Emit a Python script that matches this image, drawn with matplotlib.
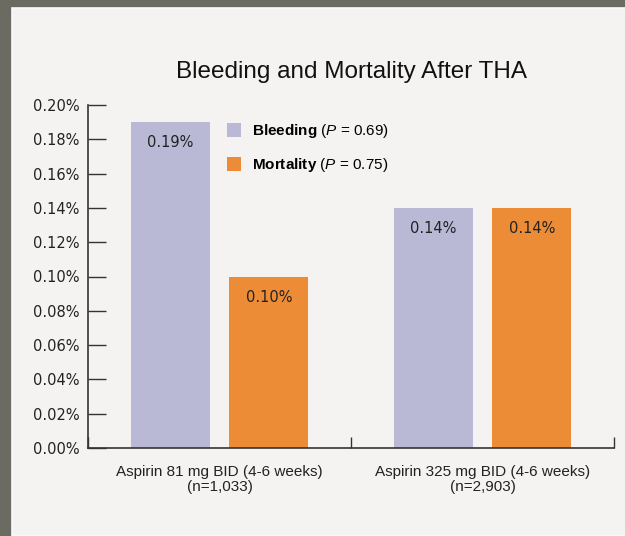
import matplotlib
matplotlib.use("Agg")
import matplotlib.pyplot as plt
from matplotlib.patches import Rectangle, Patch
import numpy as np

# data
groups = ["Aspirin 81 mg BID (4-6 weeks)\n(n=1,033)",
          "Aspirin 325 mg BID (4-6 weeks)\n(n=2,903)"]
bleeding = [0.19, 0.14]
mortality = [0.10, 0.14]
series_labels = [r"$\bf{Bleeding}$ ($\it{P}$ = 0.69)",
                 r"$\bf{Mortality}$ ($\it{P}$ = 0.75)"]
yticks = [0.00, 0.02, 0.04, 0.06, 0.08, 0.10, 0.12, 0.14, 0.16, 0.18, 0.20]

c_bleed = "#b9b9d5"
c_mort = "#ec8c36"
bg = "#f4f3f1"
narrow = ["Liberation Sans Narrow", "Liberation Sans", "DejaVu Sans"]

plt.rcParams["mathtext.fontset"] = "custom"
plt.rcParams["mathtext.rm"] = "Liberation Sans"
plt.rcParams["mathtext.it"] = "Liberation Sans:italic"
plt.rcParams["mathtext.bf"] = "Liberation Sans:bold"

fig = plt.figure(figsize=(6.25, 5.36), dpi=100)
fig.patch.set_facecolor("#6b6b61")
fig.patches.append(Rectangle((12 / 625, 0), 1, 1 - 8 / 536, transform=fig.transFigure,
                             facecolor=bg, edgecolor="#fbfbfb", linewidth=1.2,
                             zorder=-10))

ax = fig.add_axes([88 / 625, 88 / 536, 526 / 625, 343 / 536])
ax.set_facecolor("none")
ax.set_zorder(5)

x = np.arange(len(groups))
w = 0.30
off = 0.188
b1 = ax.bar(x - off, bleeding, w, color=c_bleed)
b2 = ax.bar(x + off, mortality, w, color=c_mort)

for bars, vals in ((b1, bleeding), (b2, mortality)):
    for rect, v in zip(bars, vals):
        ax.annotate(f"{v:.2f}%", (rect.get_x() + rect.get_width() / 2, v),
                    xytext=(0, -15), textcoords="offset points",
                    ha="center", va="center", fontsize=10.5, color="#222222")

ax.set_xlim(-0.5, 1.5)
ax.set_ylim(0, 0.20)
ax.set_yticks(yticks)
ax.set_yticklabels([f"{t:.2f}%" for t in yticks], fontsize=10.5, color="#222222")
ax.tick_params(axis="y", direction="in", length=13, width=1, pad=6, color="#333333")

ax.set_xticks([-0.5, 0.5, 1.5])
ax.set_xticklabels([])
ax.tick_params(axis="x", which="major", direction="in", length=8, width=1, color="#333333")
ax.set_xticks(x, minor=True)
ax.set_xticklabels(groups, minor=True, fontsize=11, family=narrow, color="#222222",
                   linespacing=1.1)
ax.tick_params(axis="x", which="minor", length=0, pad=12)

for s in ("top", "right"):
    ax.spines[s].set_visible(False)
for s in ("left", "bottom"):
    ax.spines[s].set_color("#333333")
    ax.spines[s].set_linewidth(1.2)

handles = [Patch(facecolor=c_bleed), Patch(facecolor=c_mort)]
leg = ax.legend(handles, series_labels, loc="upper left",
                bbox_to_anchor=(139 / 526, 1 - 17 / 343), frameon=False,
                handlelength=0.92, handleheight=1.05, handletextpad=0.7,
                labelspacing=1.05, borderaxespad=0, borderpad=0,
                prop={"family": narrow, "size": 11})

fig.text(351 / 625, 1 - 72 / 536, "Bleeding and Mortality After THA",
         ha="center", va="center", fontsize=17.5, family=narrow, color="#111111")

fig.savefig("out.png", dpi=100, facecolor=fig.get_facecolor())
